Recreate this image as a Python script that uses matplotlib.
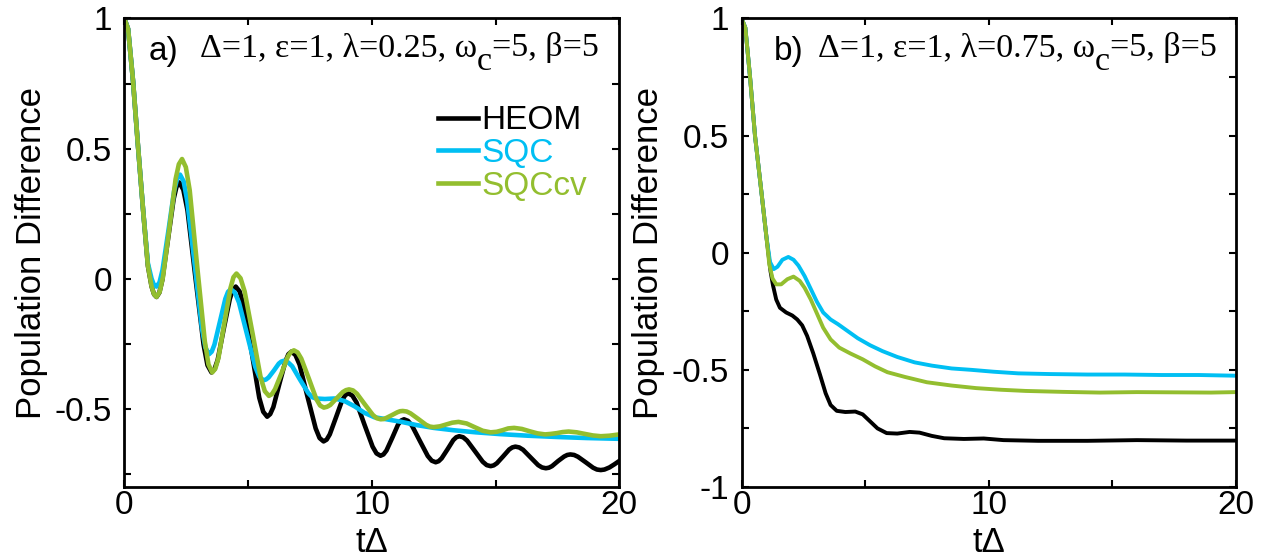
import matplotlib
matplotlib.use("Agg")
import matplotlib.pyplot as plt
from matplotlib.ticker import MultipleLocator, FuncFormatter

plt.rcParams['font.family'] = ['Liberation Sans', 'DejaVu Sans']
plt.rcParams['axes.unicode_minus'] = False

black = '#000000'
cyan = '#00BFF3'
green = '#93BE2F'

# panel a) lambda = 0.25
ta_heom = [0, 0.15, 0.35, 0.55, 0.76, 0.95, 1.1, 1.2,
           1.3, 1.415, 1.53, 1.76, 1.99, 2.105,
           2.22, 2.383, 2.55, 2.87, 3.2, 3.358,
           3.52, 3.643, 3.77, 4.01, 4.26, 4.378,
           4.5, 4.659, 4.82, 5.14, 5.45, 5.611,
           5.77, 5.893, 6.02, 6.26, 6.51, 6.628,
           6.75, 6.913, 7.08, 7.4, 7.73, 7.888,
           8.05, 8.175, 8.3, 8.55, 8.8, 8.925,
           9.05, 9.213, 9.38, 9.7, 10.03, 10.188,
           10.35, 10.469, 10.59, 10.83, 11.06, 11.181,
           11.3, 11.46, 11.62, 11.94, 12.26, 12.42,
           12.58, 12.699, 12.82, 13.06, 13.29, 13.411,
           13.53, 13.689, 13.85, 14.17, 14.48, 14.641,
           14.8, 14.925, 15.05, 15.3, 15.55, 15.675,
           15.8, 15.954, 16.11, 16.42, 16.72, 16.876,
           17.03, 17.154, 17.28, 17.53, 17.77, 17.896,
           18.02, 18.174, 18.33, 18.64, 18.94, 19.096,
           19.25, 19.4, 19.6, 19.8, 20.0]
ya_heom = [1.0, 0.96, 0.76, 0.51, 0.26, 0.05, -0.03, -0.06,
           -0.07, -0.053, -0.006, 0.15, 0.306, 0.353,
           0.37, 0.342, 0.263, 0.005, -0.253, -0.332,
           -0.36, -0.347, -0.312, -0.195, -0.078, -0.043,
           -0.03, -0.049, -0.103, -0.28, -0.457, -0.511,
           -0.53, -0.52, -0.493, -0.405, -0.317, -0.29,
           -0.28, -0.293, -0.33, -0.453, -0.575, -0.612,
           -0.625, -0.618, -0.598, -0.533, -0.467, -0.447,
           -0.44, -0.449, -0.475, -0.56, -0.645, -0.671,
           -0.68, -0.675, -0.66, -0.61, -0.56, -0.545,
           -0.54, -0.546, -0.564, -0.623, -0.681, -0.699,
           -0.705, -0.701, -0.69, -0.655, -0.62, -0.609,
           -0.605, -0.609, -0.622, -0.663, -0.703, -0.716,
           -0.72, -0.717, -0.709, -0.683, -0.656, -0.648,
           -0.645, -0.648, -0.657, -0.687, -0.716, -0.725,
           -0.728, -0.726, -0.72, -0.70, -0.683, -0.677,
           -0.675, -0.677, -0.684, -0.705, -0.726, -0.733,
           -0.735, -0.733, -0.725, -0.713, -0.70]

ta_sqc = [0, 0.15, 0.35, 0.55, 0.76, 0.95, 1.1, 1.2,
          1.3, 1.419, 1.54, 1.78, 2.01, 2.131,
          2.25, 2.396, 2.54, 2.84, 3.13, 3.274,
          3.42, 3.53, 3.64, 3.86, 4.08, 4.19,
          4.3, 4.465, 4.63, 4.96, 5.29, 5.455,
          5.62, 5.724, 5.83, 6.04, 6.24, 6.346,
          6.45, 6.613, 6.78, 7.1, 7.43, 7.588,
          7.75, 8.1, 8.5, 8.9, 9.3, 9.7, 10.1, 10.6, 11.2, 11.8,
          12.5, 13.3, 14.2, 15.2, 16.3, 17.5, 18.7, 20.0]
ya_sqc = [1.0, 0.96, 0.76, 0.51, 0.26, 0.06, 0.0, -0.025,
          -0.03, -0.014, 0.033, 0.185, 0.337, 0.384,
          0.40, 0.374, 0.299, 0.055, -0.189, -0.264,
          -0.29, -0.28, -0.253, -0.165, -0.077, -0.05,
          -0.04, -0.053, -0.091, -0.215, -0.339, -0.377,
          -0.39, -0.387, -0.379, -0.353, -0.326, -0.318,
          -0.315, -0.321, -0.336, -0.388, -0.439, -0.455,
          -0.46, -0.462, -0.46, -0.47, -0.49, -0.515, -0.532, -0.54, -0.55, -0.562,
          -0.573, -0.582, -0.59, -0.597, -0.603, -0.608, -0.612, -0.615]

ta_cv = [0, 0.15, 0.35, 0.55, 0.76, 0.95, 1.1, 1.2,
         1.3, 1.429, 1.56, 1.82, 2.07, 2.201,
         2.33, 2.483, 2.64, 2.94, 3.25, 3.398,
         3.55, 3.673, 3.8, 4.04, 4.29, 4.408,
         4.53, 4.694, 4.86, 5.19, 5.51, 5.676,
         5.84, 5.966, 6.09, 6.35, 6.6, 6.724,
         6.85, 7.001, 7.15, 7.46, 7.76, 7.909,
         8.06, 8.188, 8.32, 8.57, 8.83, 8.953,
         9.08, 9.24, 9.4, 9.72, 10.04, 10.2,
         10.36, 10.471, 10.58, 10.81, 11.03, 11.139,
         11.25, 11.406, 11.56, 11.88, 12.19, 12.344,
         12.5, 12.75, 13.0, 13.25, 13.5, 13.83, 14.15, 14.48, 14.8, 15.04, 15.28,
         15.51, 15.75, 16.06, 16.38, 16.69, 17.0, 17.24, 17.48, 17.71, 17.95,
         18.28, 18.6, 18.93, 19.25, 19.6, 20.0]
ya_cv = [1.0, 0.96, 0.76, 0.51, 0.26, 0.05, -0.03, -0.06,
         -0.07, -0.05, 0.007, 0.195, 0.383, 0.44,
         0.46, 0.429, 0.34, 0.05, -0.24, -0.329,
         -0.36, -0.346, -0.305, -0.17, -0.035, 0.006,
         0.02, 0.002, -0.049, -0.215, -0.381, -0.432,
         -0.45, -0.443, -0.424, -0.363, -0.3, -0.282,
         -0.275, -0.283, -0.307, -0.385, -0.463, -0.487,
         -0.495, -0.492, -0.485, -0.46, -0.435, -0.428,
         -0.425, -0.429, -0.442, -0.483, -0.523, -0.536,
         -0.54, -0.539, -0.535, -0.524, -0.513, -0.509,
         -0.508, -0.51, -0.517, -0.539, -0.561, -0.568,
         -0.57, -0.567, -0.56, -0.553, -0.55, -0.556, -0.57, -0.584, -0.59, -0.588, -0.582,
         -0.575, -0.573, -0.577, -0.586, -0.594, -0.598, -0.596, -0.593, -0.589, -0.587,
         -0.59, -0.596, -0.602, -0.605, -0.603, -0.598]

# panel b) lambda = 0.75
tb_heom = [0, 0.15, 0.34, 0.54, 0.81, 1.0, 1.08, 1.17, 1.27, 1.4, 1.55, 1.8, 2.05,
           2.25, 2.45, 2.65, 2.9, 3.17, 3.4, 3.6, 3.85, 4.2, 4.6, 4.9, 5.2, 5.5,
           5.87, 6.3, 6.8, 7.2, 7.7, 8.2, 9.0, 9.8, 10.6, 12, 14, 16, 18, 20]
yb_heom = [1.0, 0.96, 0.75, 0.5, 0.25, 0.07, 0.0, -0.08, -0.14, -0.2, -0.235, -0.255, -0.268,
           -0.285, -0.31, -0.355, -0.43, -0.52, -0.6, -0.65, -0.675, -0.68, -0.678, -0.69, -0.72, -0.75,
           -0.77, -0.772, -0.765, -0.768, -0.782, -0.792, -0.795, -0.793, -0.8, -0.803, -0.803, -0.8, -0.802, -0.802]

tb_sqc = [0, 0.15, 0.34, 0.54, 0.81, 1.0, 1.15, 1.3, 1.45, 1.65, 1.89, 2.1, 2.3,
          2.55, 2.8, 3.05, 3.3, 3.6, 3.9, 4.3, 4.7, 5.2, 5.7, 6.3, 7.0, 7.7, 8.5,
          9.3, 10.2, 11.2, 12.5, 14, 15.5, 17, 18.5, 20]
yb_sqc = [1.0, 0.96, 0.75, 0.5, 0.25, 0.07, -0.04, -0.07, -0.06, -0.03, -0.018, -0.03, -0.055,
          -0.1, -0.155, -0.21, -0.255, -0.285, -0.305, -0.335, -0.365, -0.395, -0.42, -0.445, -0.468, -0.482, -0.494,
          -0.5, -0.508, -0.515, -0.518, -0.52, -0.52, -0.522, -0.522, -0.525]

tb_cv = [0, 0.15, 0.34, 0.54, 0.81, 1.0, 1.12, 1.25, 1.4, 1.6, 1.85, 2.1, 2.35,
         2.55, 2.8, 3.05, 3.3, 3.6, 3.95, 4.4, 4.9, 5.4, 5.9, 6.6, 7.5, 8.5, 9.5,
         10.5, 11.5, 13, 14.5, 16, 17.5, 19, 20]
yb_cv = [1.0, 0.96, 0.75, 0.5, 0.25, 0.07, -0.05, -0.11, -0.135, -0.135, -0.113, -0.102, -0.12,
         -0.15, -0.2, -0.26, -0.32, -0.37, -0.405, -0.43, -0.455, -0.485, -0.51, -0.53, -0.553, -0.567, -0.578,
         -0.585, -0.59, -0.594, -0.597, -0.595, -0.596, -0.597, -0.595]

fig = plt.figure(figsize=(12.73, 5.6), dpi=100)
ax1 = fig.add_axes([0.0977, 0.1304, 0.3888, 0.8366])
ax2 = fig.add_axes([0.5826, 0.1304, 0.3881, 0.8366])

ax1.plot(ta_heom, ya_heom, color=black, lw=3.3, label='HEOM')
ax1.plot(ta_sqc, ya_sqc, color=cyan, lw=3.3, label='SQC')
ax1.plot(ta_cv, ya_cv, color=green, lw=3.3, label='SQCcv')

ax2.plot(tb_heom, yb_heom, color=black, lw=2.8)
ax2.plot(tb_sqc, yb_sqc, color=cyan, lw=2.8)
ax2.plot(tb_cv, yb_cv, color=green, lw=2.8)

fmt = FuncFormatter(lambda v, p: '%g' % v)
for ax in (ax1, ax2):
    ax.set_xlim(0, 20)
    ax.xaxis.set_major_locator(MultipleLocator(10))
    ax.xaxis.set_minor_locator(MultipleLocator(5))
    ax.yaxis.set_major_locator(MultipleLocator(0.5))
    ax.yaxis.set_minor_locator(MultipleLocator(0.25))
    ax.xaxis.set_major_formatter(fmt)
    ax.yaxis.set_major_formatter(fmt)
    ax.tick_params(which='both', direction='in', top=True, right=True,
                   length=5, width=1.5, labelsize=24)
    ax.tick_params(axis='x', pad=2)
    ax.tick_params(axis='y', pad=9)
    for s in ax.spines.values():
        s.set_linewidth(2)
    ax.set_xlabel('t\u0394', fontsize=25, labelpad=4)
    ax.set_ylabel('Population Difference', fontsize=25, labelpad=5)

ax1.set_ylim(-0.8, 1)
ax2.set_ylim(-1, 1)


def param_text(ax, x, lam):
    # serif parameter line; the "c" of omega_c sits lower, as in the original
    serif = dict(fontsize=24.5, family='Liberation Serif', va='bottom')
    t1 = ax.text(x, 0.905, '\u0394=1, \u03b5=1, \u03bb=%s, \u03c9' % lam,
                 transform=ax.transAxes, **serif)
    t2 = ax.annotate('c', xy=(1, 0), xycoords=t1, xytext=(0, -10),
                     textcoords='offset points', **serif)
    ax.annotate('=5, \u03b2=5', xy=(1, 0), xycoords=t2, xytext=(0, 10),
                textcoords='offset points', **serif)


ax1.text(0.05, 0.912, 'a)', transform=ax1.transAxes, fontsize=24)
param_text(ax1, 0.152, '0.25')
ax2.text(0.065, 0.912, 'b)', transform=ax2.transAxes, fontsize=24)
param_text(ax2, 0.154, '0.75')

ax1.legend(loc='upper left', bbox_to_anchor=(0.6, 0.85), frameon=False, fontsize=24,
           handlelength=1.2, handletextpad=0.1, labelspacing=0.05, borderpad=0,
           labelcolor='linecolor')

fig.savefig('out.png', dpi=100)
